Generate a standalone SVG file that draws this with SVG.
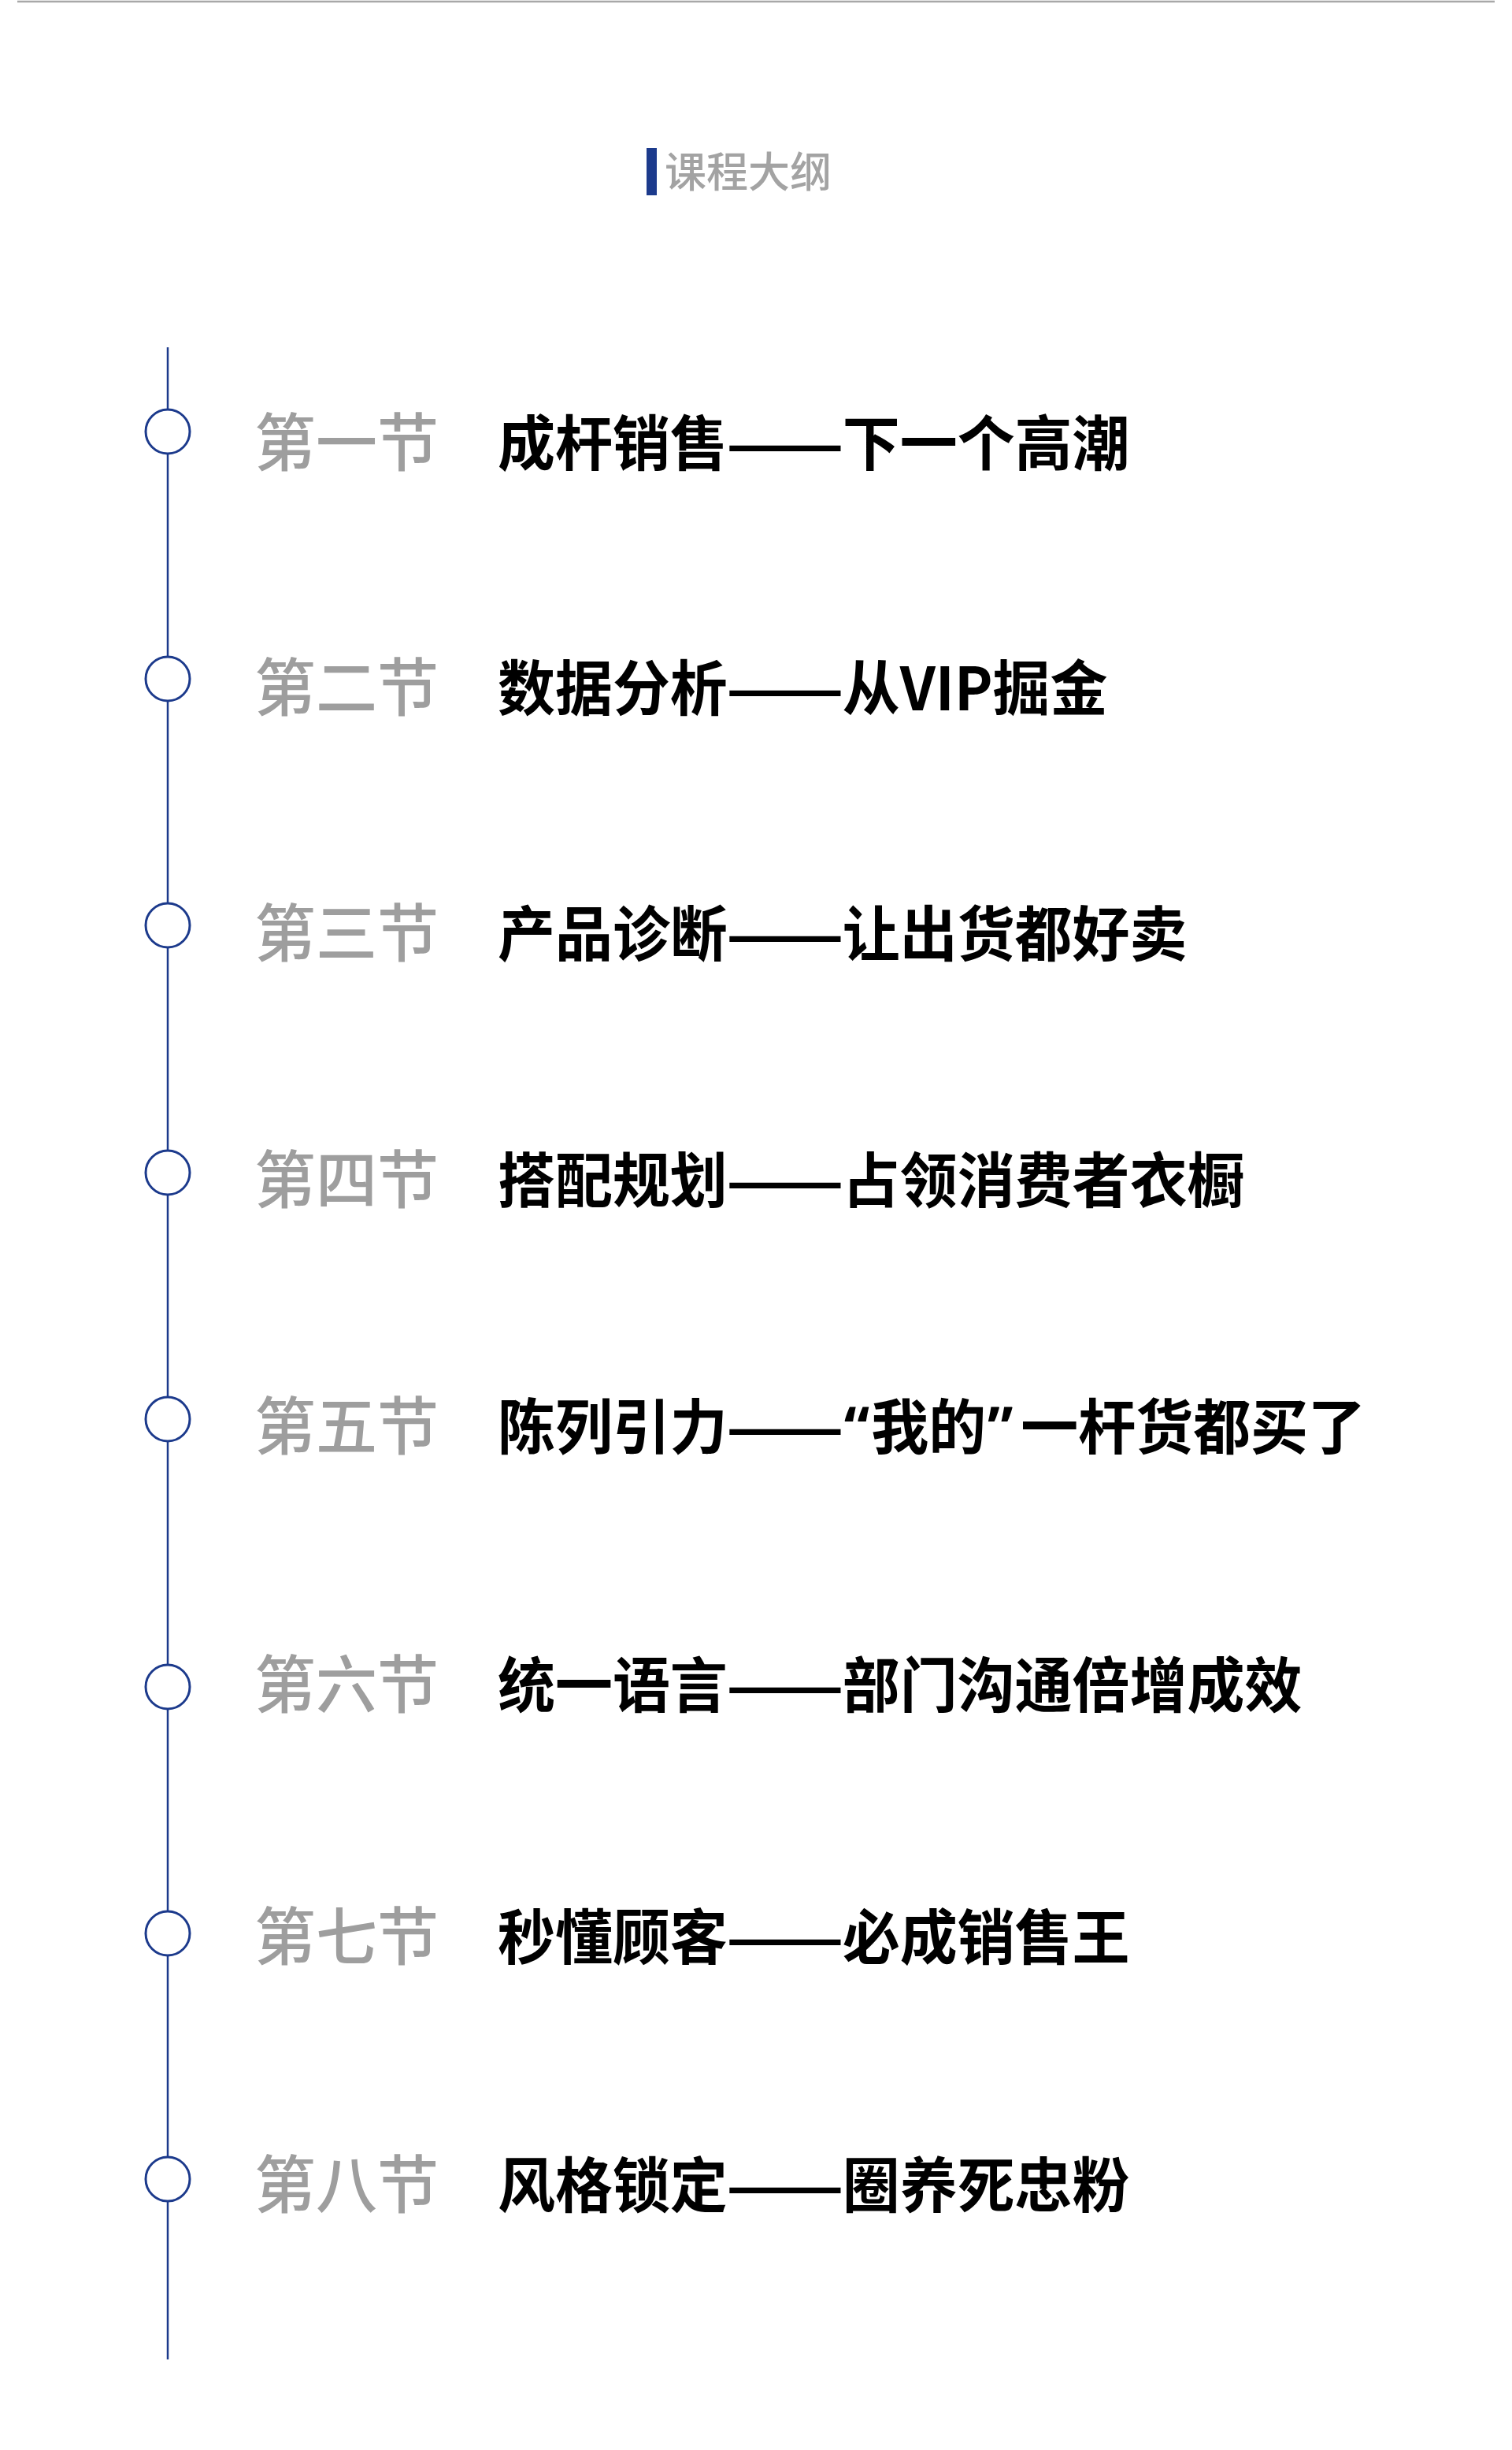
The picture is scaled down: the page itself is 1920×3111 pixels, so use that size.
<svg xmlns="http://www.w3.org/2000/svg" width="1920" height="3111" viewBox="0 0 1920 3111">
<style>
text{font-family:"Noto Sans CJK SC","Noto Sans",sans-serif}
.sec{font-size:80px;fill:#9e9e9e;font-weight:500}
.ttl{font-size:76px;fill:#000;font-weight:700}
.q{font-family:"Noto Sans",sans-serif}
.dot{fill:#fff;stroke:#1c3a8c;stroke-width:3}
</style>
<rect width="1920" height="3111" fill="#fff"/>
<line x1="22" y1="2" x2="1898" y2="2" stroke="#a8a8a8" stroke-width="2.5"/>
<g id="title">
<rect x="821" y="188" width="13" height="60" fill="#1c3a8c"/>
<text x="844" y="238" font-size="53" fill="#a3a3a3" font-weight="500">课程大纲</text>
</g>
<g id="connectors">
<line x1="213" y1="441" x2="213" y2="2996" stroke="#1c3a8c" stroke-width="2.5"/>
</g>
<g id="node1"><circle class="dot" cx="213" cy="548" r="28"/>
<text class="sec" transform="translate(323,591) scale(0.975,1)">第一节</text>
<g transform="translate(632,591) scale(0.96,1)"><text class="ttl">成杆销售</text><text class="ttl" x="302" textLength="156" lengthAdjust="spacingAndGlyphs">——</text><text class="ttl" x="456">下一个高潮</text></g></g>
<g id="node2"><circle class="dot" cx="213" cy="862" r="28"/>
<text class="sec" transform="translate(323,902) scale(0.975,1)">第二节</text>
<g transform="translate(632,902) scale(0.96,1)"><text class="ttl">数据分析</text><text class="ttl" x="302" textLength="156" lengthAdjust="spacingAndGlyphs">——</text><text class="ttl" x="456">从VIP掘金</text></g></g>
<g id="node3"><circle class="dot" cx="213" cy="1175" r="28"/>
<text class="sec" transform="translate(323,1214) scale(0.975,1)">第三节</text>
<g transform="translate(632,1214) scale(0.96,1)"><text class="ttl">产品诊断</text><text class="ttl" x="302" textLength="156" lengthAdjust="spacingAndGlyphs">——</text><text class="ttl" x="456">让出货都好卖</text></g></g>
<g id="node4"><circle class="dot" cx="213" cy="1489" r="28"/>
<text class="sec" transform="translate(323,1527) scale(0.975,1)">第四节</text>
<g transform="translate(632,1527) scale(0.96,1)"><text class="ttl">搭配规划</text><text class="ttl" x="302" textLength="156" lengthAdjust="spacingAndGlyphs">——</text><text class="ttl" x="456">占领消费者衣橱</text></g></g>
<g id="node5"><circle class="dot" cx="213" cy="1802" r="28"/>
<text class="sec" transform="translate(323,1840) scale(0.975,1)">第五节</text>
<g transform="translate(632,1840) scale(0.96,1)"><text class="ttl">陈列引力</text><text class="ttl" x="302" textLength="156" lengthAdjust="spacingAndGlyphs">——</text><text class="ttl q" x="458">“</text><text class="ttl" x="494">我的</text><text class="ttl q" x="648">”</text><text class="ttl" x="692">一杆货都买了</text></g></g>
<g id="node6"><circle class="dot" cx="213" cy="2142" r="28"/>
<text class="sec" transform="translate(323,2168) scale(0.975,1)">第六节</text>
<g transform="translate(632,2168) scale(0.96,1)"><text class="ttl">统一语言</text><text class="ttl" x="302" textLength="156" lengthAdjust="spacingAndGlyphs">——</text><text class="ttl" x="456">部门沟通倍增成效</text></g></g>
<g id="node7"><circle class="dot" cx="213" cy="2455" r="28"/>
<text class="sec" transform="translate(323,2488) scale(0.975,1)">第七节</text>
<g transform="translate(632,2488) scale(0.96,1)"><text class="ttl">秒懂顾客</text><text class="ttl" x="302" textLength="156" lengthAdjust="spacingAndGlyphs">——</text><text class="ttl" x="456">必成销售王</text></g></g>
<g id="node8"><circle class="dot" cx="213" cy="2767" r="28"/>
<text class="sec" transform="translate(323,2803) scale(0.975,1)">第八节</text>
<g transform="translate(632,2803) scale(0.96,1)"><text class="ttl">风格锁定</text><text class="ttl" x="302" textLength="156" lengthAdjust="spacingAndGlyphs">——</text><text class="ttl" x="456">圈养死忠粉</text></g></g>
</svg>
